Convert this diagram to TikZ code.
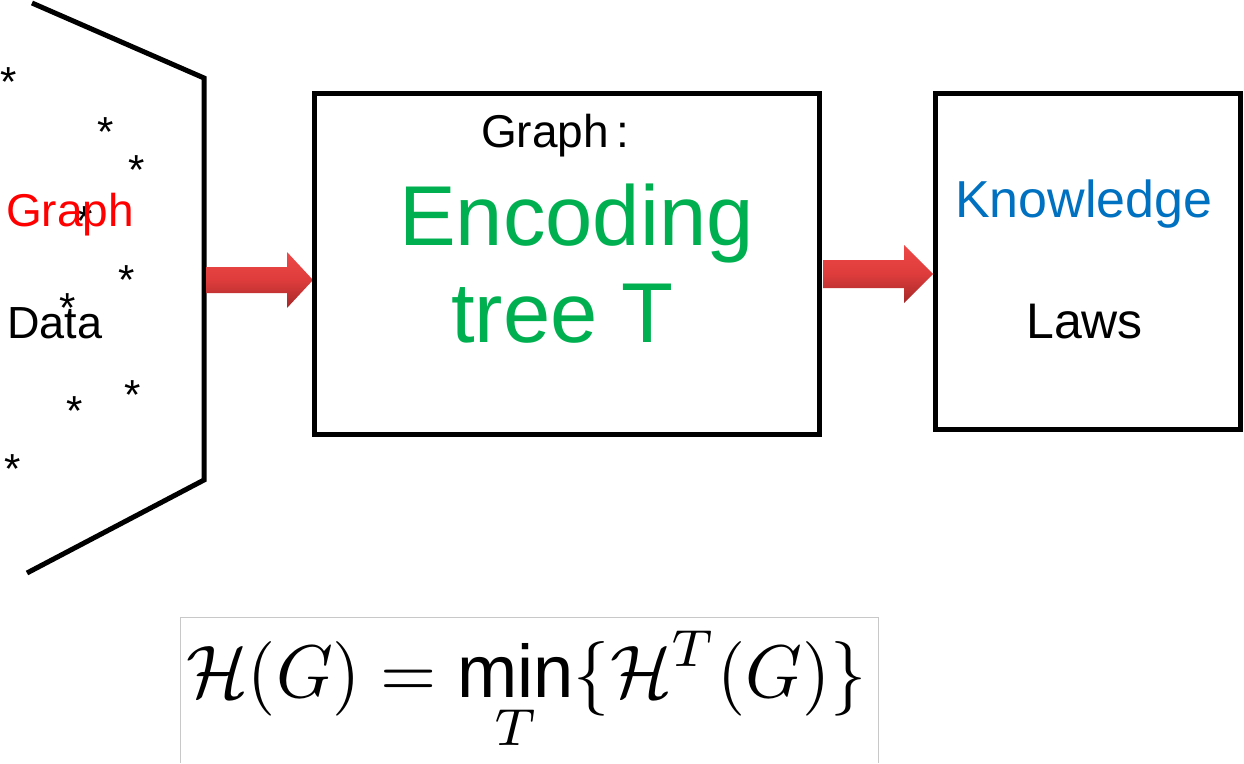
\documentclass[tikz,border=0pt]{standalone}
\usepackage{fontspec}
\usepackage{graphicx}
\setmainfont{Liberation Sans}
\usetikzlibrary{calc}
\definecolor{gtext}{RGB}{0,176,80}
\definecolor{btext}{RGB}{0,112,192}
\definecolor{arrtop}{RGB}{238,72,72}
\definecolor{arrmid}{RGB}{222,60,60}
\definecolor{arrbot}{RGB}{165,40,40}
\definecolor{fbox}{RGB}{200,200,200}
\tikzset{
  lbl/.style={inner sep=0pt, anchor=base west},
  starmark/.style={inner sep=0pt, anchor=north, font=\fontsize{42}{42}\selectfont},
  boxline/.style={draw=black, line width=5pt},
  boxnode/.style={inner sep=0pt, outer sep=0pt, anchor=north west},
  bigarrow/.style={top color=arrtop, bottom color=arrbot, middle color=arrmid, draw=none},
}
\begin{document}
\begin{tikzpicture}[x=1pt,y=-1pt]
\useasboundingbox (0,0) rectangle (1244,763);
% data bracket
\draw[line width=5pt, line join=miter] (32,3) -- (204,78) -- (204,480) -- (27,573);
\coordinate (src) at (206,280);
% stars
\foreach \sx/\sy [count=\i] in {9/74,106/124,137/162,85/213,127/272,68/300,133/387,75/403,13/461}
  \node[starmark] (st\i) at (\sx,\sy-7) {*};
\node[lbl, text=red, font=\fontsize{46}{46}\selectfont] (graphlbl) at (6,226) {Graph};
\node[lbl, font=\fontsize{45}{45}\selectfont] (datalbl) at (7,338) {Data};
% boxes (as nodes)
\node[boxnode, minimum width=505pt, minimum height=341pt] (enc) at (314,93) {};
\node[boxnode, minimum width=305pt, minimum height=336pt] (kn) at (935,93) {};
% arrows
\path[bigarrow] let \p1=(src), \p2=(enc.west |- src) in
  (\x1,\y1+13) -- (\x2-27,\y1+13) -- (\x2-27,\y1+28) -- (\x2-1,\y1) -- (\x2-27,\y1-28) -- (\x2-27,\y1-13) -- (\x1,\y1-13) -- cycle;
\coordinate (src2) at (823,274);
\path[bigarrow] let \p1=(src2), \p2=(kn.west |- src2) in
  (\x1,\y1+14) -- (\x2-31,\y1+14) -- (\x2-31,\y1+29) -- (\x2-2,\y1) -- (\x2-31,\y1-29) -- (\x2-31,\y1-14) -- (\x1,\y1-14) -- cycle;
\draw[boxline] (enc.north west) rectangle (enc.south east);
\draw[boxline] (kn.north west) rectangle (kn.south east);
% texts in boxes
\node[lbl, font=\fontsize{46}{46}\selectfont] (gcolon) at (481,147) {Graph\,:};
\node[lbl, text=gtext, font=\fontsize{85}{85}\selectfont] (encl) at (399,245) {Encoding};
\node[lbl, text=gtext, font=\fontsize{85}{85}\selectfont] (treel) at (451,342) {tree T};
\node[lbl, text=btext, font=\fontsize{52}{52}\selectfont] (knl) at (955,217) {Knowledge};
\node[lbl, font=\fontsize{50}{50}\selectfont] (lawl) at (1026,338) {Laws};
% formula
\draw[fbox, line width=1pt] (180,763) -- (180,617) -- (878,617) -- (878,763);
\node[inner sep=0pt, anchor=north west] (formula) at (186,631)
  {\resizebox*{680pt}{122pt}{$\displaystyle \mathcal{H}(G)=\mathop{\hbox{min}}\limits_{T}\{\mathcal{H}^{T}(G)\}$}};
\end{tikzpicture}
\end{document}
